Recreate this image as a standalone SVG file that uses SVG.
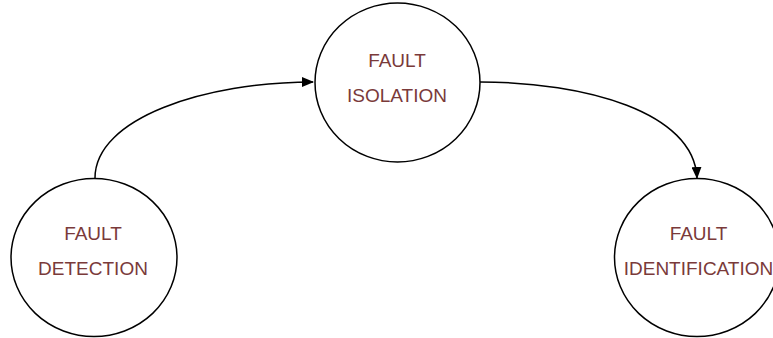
<svg xmlns="http://www.w3.org/2000/svg" width="773" height="338" viewBox="0 0 773 338">
  <style>
    .node { fill: #ffffff; stroke: #000000; stroke-width: 1.5; }
    .label { font-family: "Liberation Sans", Arial, sans-serif; font-size: 19px; fill: #7a3a3a; text-anchor: middle; }
    .edge { fill: none; stroke: #000000; stroke-width: 1.5; }
  </style>
  <defs>
    <marker id="arrow" viewBox="0 0 12 10" refX="11" refY="5" markerWidth="12" markerHeight="10" markerUnits="userSpaceOnUse" orient="auto">
      <path d="M0,0 L12,5 L0,10 Z" fill="#000000"/>
    </marker>
  </defs>

  <g id="connectors">
    <path class="edge" d="M95,178 C95,118 205,82 313,82" marker-end="url(#arrow)"/>
    <path class="edge" d="M480,82 C585,82 694,112 697,178" marker-end="url(#arrow)"/>
  </g>

  <g id="fault-detection">
    <ellipse class="node" cx="94" cy="257.5" rx="83" ry="79"/>
    <text class="label" x="93" y="240">FAULT</text>
    <text class="label" x="93" y="275">DETECTION</text>
  </g>

  <g id="fault-isolation">
    <ellipse class="node" cx="397.5" cy="82.5" rx="82.5" ry="79.5"/>
    <text class="label" x="397" y="67">FAULT</text>
    <text class="label" x="397" y="102">ISOLATION</text>
  </g>

  <g id="fault-identification">
    <ellipse class="node" cx="697" cy="257.5" rx="82.5" ry="79"/>
    <text class="label" x="698.5" y="240">FAULT</text>
    <text class="label" x="698.5" y="275">IDENTIFICATION</text>
  </g>
</svg>
